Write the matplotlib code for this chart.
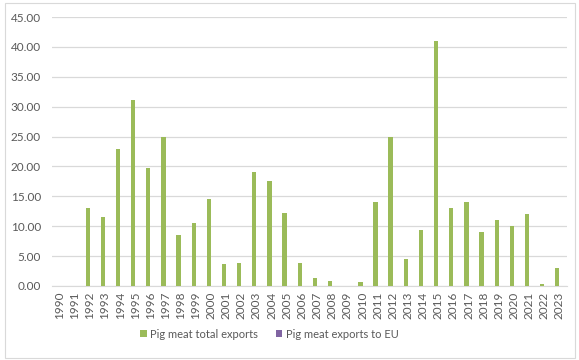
import numpy as np
import matplotlib.pyplot as plt
from matplotlib.patches import Rectangle

plt.rcParams['font.family'] = ['Lato', 'DejaVu Sans']

years = [str(y) for y in range(1990, 2024)]
total_exports = [0, 0, 13.0, 11.5, 23.0, 31.1, 19.8, 25.0, 8.6, 10.6, 14.5, 3.7, 3.9,
                 19.1, 17.5, 12.2, 3.8, 1.4, 0.9, 0, 0.6, 14.0, 25.0, 4.6, 9.3, 41.0,
                 13.0, 14.0, 9.0, 11.0, 10.0, 12.0, 0.3, 3.0]
eu_exports = [0] * len(years)

green = '#9BBB59'
purple = '#8064A2'
text_col = '#595959'

fig = plt.figure(figsize=(5.79, 3.6), dpi=100)
ax = fig.add_axes([52 / 579, 1 - 286 / 360, 515 / 579, 269 / 360])

x = np.arange(len(years))
w = 0.286
ax.bar(x - w / 2, total_exports, width=w, color=green, label='Pig meat total exports', zorder=3)
ax.bar(x + w / 2, eu_exports, width=w, color=purple, label='Pig meat exports to EU', zorder=3)

ax.set_xlim(-0.5, len(years) - 0.5)
ax.set_ylim(0, 45)
ax.set_yticks(np.arange(0, 46, 5))
ax.set_yticklabels([f'{v:.2f}' for v in np.arange(0, 46, 5)])
ax.set_xticks(x)
ax.set_xticklabels(years, rotation=90)
ax.tick_params(axis='both', length=0, labelsize=8.5, colors=text_col)
ax.tick_params(axis='x', pad=4)
ax.tick_params(axis='y', pad=8)
ax.grid(axis='y', color='#D9D9D9', linewidth=0.9, zorder=0)
for s in ['top', 'right', 'left']:
    ax.spines[s].set_visible(False)
ax.spines['bottom'].set_color('#D9D9D9')

fig.legend(loc='center', bbox_to_anchor=(0.465, 1 - 334 / 360), ncol=2, frameon=False,
           fontsize=8, handlelength=0.6, handleheight=0.6, columnspacing=1.6,
           handletextpad=0.3, labelcolor=text_col)

fig.patches.append(Rectangle((5 / 579, 2 / 360), 570 / 579, 355 / 360, transform=fig.transFigure,
                             fill=False, edgecolor='#D9D9D9', linewidth=0.8))

fig.savefig('out.png', dpi=100)
